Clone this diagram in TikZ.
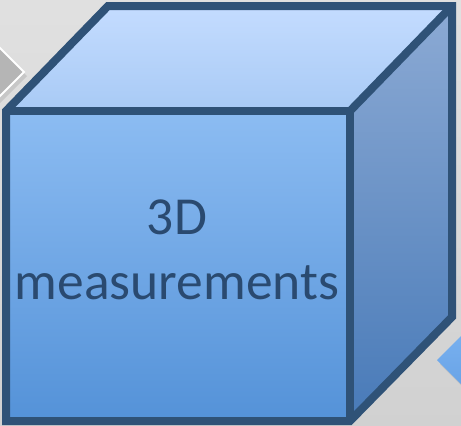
\documentclass[tikz,border=0pt]{standalone}
\usepackage{fontspec}
\setmainfont{Carlito}
\definecolor{edge}{HTML}{2F5277}
\definecolor{txt}{HTML}{2A4A70}
\begin{document}
\begin{tikzpicture}[x=1pt,y=-1pt,
  face/.style={draw=edge,line width=8pt,line join=miter},
  lbl/.style={text=txt,font=\fontsize{53.5}{65}\selectfont,align=center}]
\useasboundingbox (0,0) rectangle (461,426);
% background
\shade[top color=black!12,bottom color=black!18] (0,0) rectangle (461,426);
% side arrows
\fill[black!30,opacity=0.5] (-33,16) -- (27,76) -- (-33,136) -- cycle;
\draw[draw=white,line width=2pt,fill=black!29] (-36,12) coordinate (gl1) -- (24,72) coordinate (gtip) -- (-36,132) coordinate (gl2) -- cycle;
\fill[black!30,opacity=0.5] (440,364) -- (500,304) -- (500,424) -- cycle;
\shade[top color={rgb,255:red,130;green,185;blue,245},bottom color={rgb,255:red,95;green,155;blue,225}]
  (437,360) coordinate (btip) -- (497,300) -- (497,420) -- cycle;
% cube corners
\coordinate (A) at (6,111);
\coordinate (B) at (350,111);
\coordinate (C) at (350,421);
\coordinate (D) at (6,421);
\coordinate (E) at (108,6);
\coordinate (F) at (452,6);
\coordinate (G) at (452,317);
% faces
\shade[top color={rgb,255:red,196;green,220;blue,255},bottom color={rgb,255:red,168;green,202;blue,245}] (A) -- (E) -- (F) -- (B) -- cycle;
\shade[top color={rgb,255:red,140;green,170;blue,212},bottom color={rgb,255:red,72;green,122;blue,184}] (B) -- (F) -- (G) -- (C) -- cycle;
\shade[top color={rgb,255:red,140;green,188;blue,242},bottom color={rgb,255:red,84;green,146;blue,216}] (A) -- (B) -- (C) -- (D) -- cycle;
\draw[face] (A) -- (E) -- (F) -- (G) -- (C) -- (D) -- cycle;
\draw[face] (A) -- (B) -- (C);
\draw[face] (B) -- (F);
\node[lbl] (t) at (177,250) {3D\\measurements};
\end{tikzpicture}
\end{document}
